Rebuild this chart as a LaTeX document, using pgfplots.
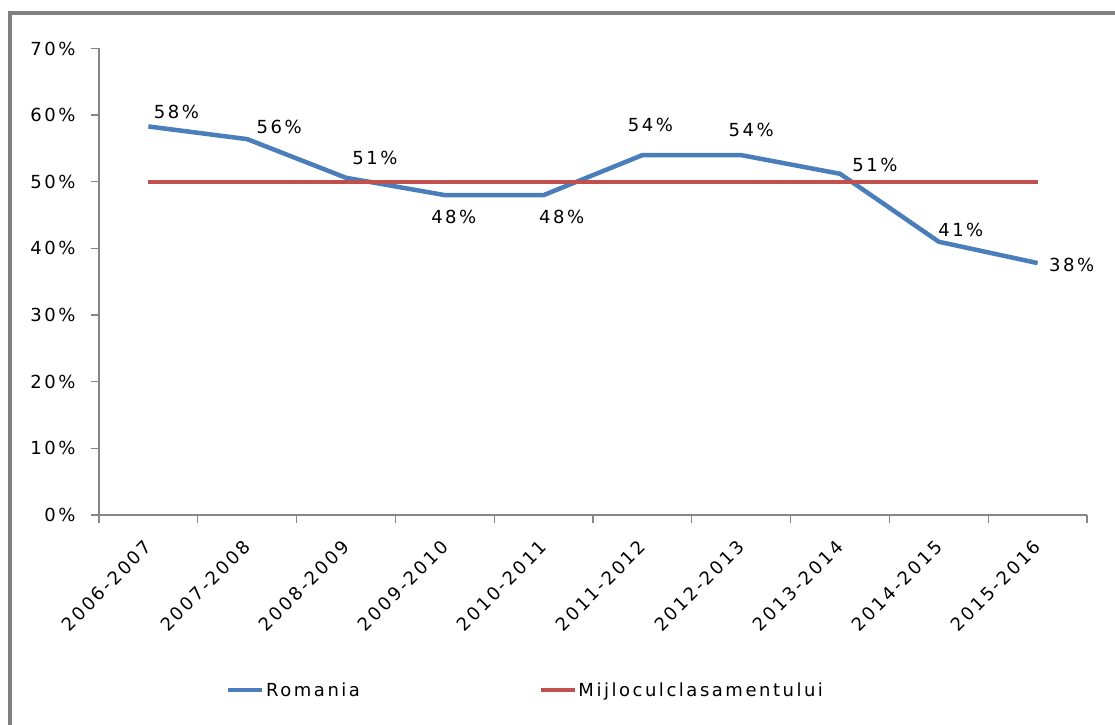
\documentclass[border=0pt]{standalone}
\usepackage{pgfplots}
\pgfplotsset{compat=1.18}
\usepackage{pgfplotstable}
\usepackage{fontspec}
\setmainfont{DejaVu Sans}[LetterSpace=14]
\definecolor{roblue}{RGB}{74,126,187}
\definecolor{midred}{RGB}{192,80,77}
\definecolor{axisgray}{RGB}{134,134,134}
\definecolor{framegray}{RGB}{128,128,128}

\pgfplotstableread{
x y dx dy
0 58.3 28 15
1 56.4 32 12
2 50.6 29 20
3 48.0 9 -22
4 48.0 18 -22
5 54.0 8 30
6 54.0 10 25
7 51.2 35 9
8 41.0 22 12
9 37.8 34 -2
}\romania

\pgfplotstableread{
x y
0 50
9 50
}\middle

\begin{document}
\begin{tikzpicture}[x=1bp,y=1bp]
\useasboundingbox (0,0) rectangle (1115,725);
\draw[framegray, line width=4bp] (10,-20) -- (10,712) -- (1140,712);
\begin{axis}[
  at={(99bp,210bp)}, anchor=south west,
  scale only axis, width=988bp, height=466.5bp,
  xmin=-0.5, xmax=9.5, ymin=0, ymax=70,
  axis x line*=bottom, axis y line*=left,
  axis line style={axisgray, line width=1.3bp},
  font=\fontsize{18bp}{21bp}\selectfont,
  ytick={0,10,...,70},
  yticklabel={\pgfmathprintnumber{\tick}\%},
  /pgf/number format/assume math mode=true,
  tick align=outside,
  major tick length=8bp,
  ytick style={axisgray, line width=1.3bp},
  yticklabel style={xshift=-12bp},
  xtick={0,...,9},
  xticklabels={2006-2007,2007-2008,2008-2009,2009-2010,2010-2011,2011-2012,2012-2013,2013-2014,2014-2015,2015-2016},
  xtick style={draw=none},
  xticklabel style={yshift=-21bp, rotate=45, anchor=east, inner sep=0bp},
  extra x ticks={-0.5,0.5,...,9.5},
  extra x tick labels={},
  extra x tick style={xtick style={draw=axisgray, line width=1.3bp}},
  legend columns=2,
  legend style={draw=none, fill=none, at={(0.1290,-0.375)}, anchor=west,
    font=\fontsize{18bp}{21bp}\selectfont,
    /tikz/every even column/.append style={column sep=177bp},
    inner sep=0pt, cells={anchor=west, inner sep=1bp}},
  legend image code/.code={\draw[#1, line width=3.5bp] (0bp,0bp) -- (34bp,0bp);},
]
\addplot[roblue, line width=4.5bp, line join=round,
  nodes near coords={\pgfmathprintnumber[fixed,precision=0]{\pgfplotspointmeta}\%},
  point meta=y,
  visualization depends on={\thisrow{dx} \as \dx},
  visualization depends on={\thisrow{dy} \as \dy},
  every node near coord/.append style={anchor=center, black, font=\fontsize{18bp}{21bp}\selectfont, xshift=\dx bp, yshift=\dy bp, /pgf/number format/assume math mode=true},
] table[x=x,y=y] {\romania};
\addlegendentry{Romania}
\addplot[midred, line width=4bp] table[x=x,y=y] {\middle};
\addlegendentry{Mijloculclasamentului}
\end{axis}
\end{tikzpicture}
\end{document}
